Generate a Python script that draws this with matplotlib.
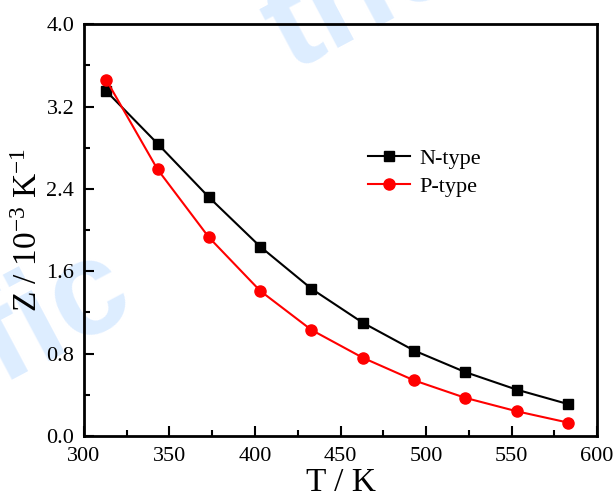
import matplotlib
matplotlib.use("Agg")
import matplotlib.pyplot as plt

plt.rcParams['font.family'] = 'Liberation Serif'
plt.rcParams['mathtext.fontset'] = 'custom'
plt.rcParams['mathtext.rm'] = 'Liberation Serif'
plt.rcParams['mathtext.it'] = 'Liberation Serif:italic'

# temperature (K) and figure of merit Z (10^-3 1/K)
T = [313, 343, 373, 403, 433, 463, 493, 523, 553, 583]
z_n = [3.35, 2.84, 2.32, 1.84, 1.43, 1.10, 0.83, 0.62, 0.45, 0.31]
z_p = [3.46, 2.59, 1.93, 1.41, 1.03, 0.76, 0.54, 0.37, 0.24, 0.13]

x_ticks = [300, 350, 400, 450, 500, 550, 600]
y_ticks = [0.0, 0.8, 1.6, 2.4, 3.2, 4.0]

fig = plt.figure(figsize=(6.13, 5.04), dpi=100)
ax = fig.add_axes([0.137, 0.135, 0.837, 0.817])
ax.patch.set_alpha(0)

# faint background lettering, kept under the axes
wm = dict(fontsize=96, color='#ddedff', family='Liberation Sans', weight='bold',
          rotation=28, rotation_mode='anchor', va='baseline', zorder=-5)
fig.text(0.225, 0.39, "ific", ha='right', **wm)
fig.text(0.475, 0.857, "the", ha='left', **wm)

ax.plot(T, z_n, color='black', marker='s', markersize=7, linewidth=1.5, label='N-type')
ax.plot(T, z_p, color='red', marker='o', markersize=8, linewidth=1.5, label='P-type')

ax.set_xlim(300, 600)
ax.set_ylim(0, 4.0)
ax.set_xticks(x_ticks)
ax.set_yticks(y_ticks)
ax.set_xticklabels([str(v) for v in x_ticks])
ax.set_yticklabels(["%.1f" % v for v in y_ticks])
ax.set_xticks([325, 375, 425, 475, 525, 575], minor=True)
ax.set_yticks([0.4, 1.2, 2.0, 2.8, 3.6], minor=True)
ax.tick_params(which='both', direction='in', top=False, right=False, labelsize=16, width=1.5)
ax.tick_params(which='major', length=7)
ax.tick_params(axis='x', which='major', pad=8)
ax.tick_params(axis='y', which='major', pad=7)
ax.tick_params(which='minor', length=4)
for s in ax.spines.values():
    s.set_linewidth(2)

ax.set_xlabel("T / K", fontsize=24, labelpad=1)
ax.set_ylabel("Z / 10$^{-3}$ K$^{-1}$", fontsize=24, labelpad=2)

ax.legend(loc='upper left', bbox_to_anchor=(0.515, 0.748), frameon=False, fontsize=16,
          handlelength=1.9, numpoints=1, handletextpad=0.4, labelspacing=0.35)

fig.savefig("out.png", dpi=100)
